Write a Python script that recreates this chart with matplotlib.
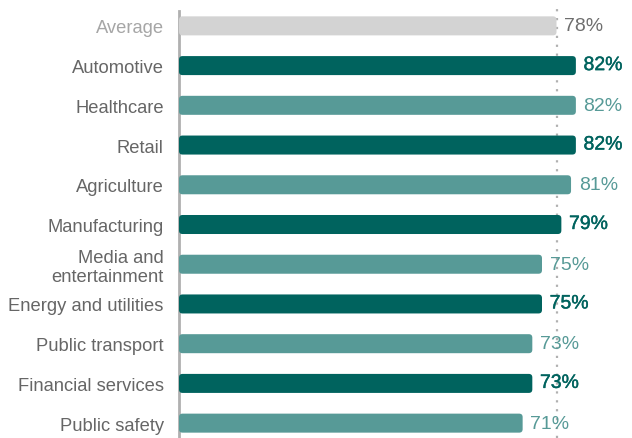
import matplotlib.pyplot as plt
import matplotlib.patheffects as pe
from matplotlib.patches import FancyBboxPatch

plt.rcParams['font.family'] = ['Liberation Sans', 'DejaVu Sans']

categories = ['Average', 'Automotive', 'Healthcare', 'Retail', 'Agriculture',
              'Manufacturing', 'Media and\nentertainment', 'Energy and utilities',
              'Public transport', 'Financial services', 'Public safety']
values = [78, 82, 82, 82, 81, 79, 75, 75, 73, 73, 71]
average = 78

GREY = '#d3d3d3'
DARK = '#00635e'
LIGHT = '#579a97'
bar_colors = [GREY] + [DARK if i % 2 == 0 else LIGHT for i in range(len(values) - 1)]
val_colors = ['#6e6e6e'] + bar_colors[1:]

W, H = 632, 439
fig = plt.figure(figsize=(W / 100, H / 100), dpi=100)
left_px, right_px = 179, 632
top_px = 7
ax = fig.add_axes([left_px / W, 0, (right_px - left_px) / W, 1 - top_px / H])

px_per_x = 4.84
px_per_y = 39.7
ax.set_xlim(0, (right_px - left_px) / px_per_x)
ax.set_ylim(10.5 - 5 / px_per_y, -0.5)

bar_h = 19 / px_per_y
rad = 3.5 / px_per_x
for i, (v, c) in enumerate(zip(values, bar_colors)):
    p = FancyBboxPatch((0, i - bar_h / 2), v, bar_h,
                       boxstyle=f'round,pad=0,rounding_size={rad}',
                       mutation_aspect=px_per_x / px_per_y,
                       facecolor=c, edgecolor='none', zorder=3)
    ax.add_patch(p)
    t = ax.annotate(f'{v}%', xy=(v, i), xytext=(5.5, 0), textcoords='offset points',
                    ha='left', va='center', fontsize=14, color=val_colors[i], zorder=4)
    if c == DARK:
        t.set_path_effects([pe.withStroke(linewidth=0.3, foreground=c)])

ax.axvline(average, color='#b0b0b0', linestyle=(0, (1, 3)), linewidth=1.6, zorder=1)

ax.set_yticks(range(len(categories)))
ax.set_yticklabels(categories, fontsize=13.2, color='#666666', linespacing=1.15)
ax.get_yticklabels()[0].set_color('#a6a6a6')
ax.tick_params(axis='y', length=0, pad=11)
ax.set_xticks([])

for s in ['top', 'right', 'bottom']:
    ax.spines[s].set_visible(False)
ax.spines['left'].set_color('#b0b0b0')
ax.spines['left'].set_linewidth(2)
ax.spines['left'].set_bounds(10.5, -0.38)

fig.savefig('out.png', dpi=100)
